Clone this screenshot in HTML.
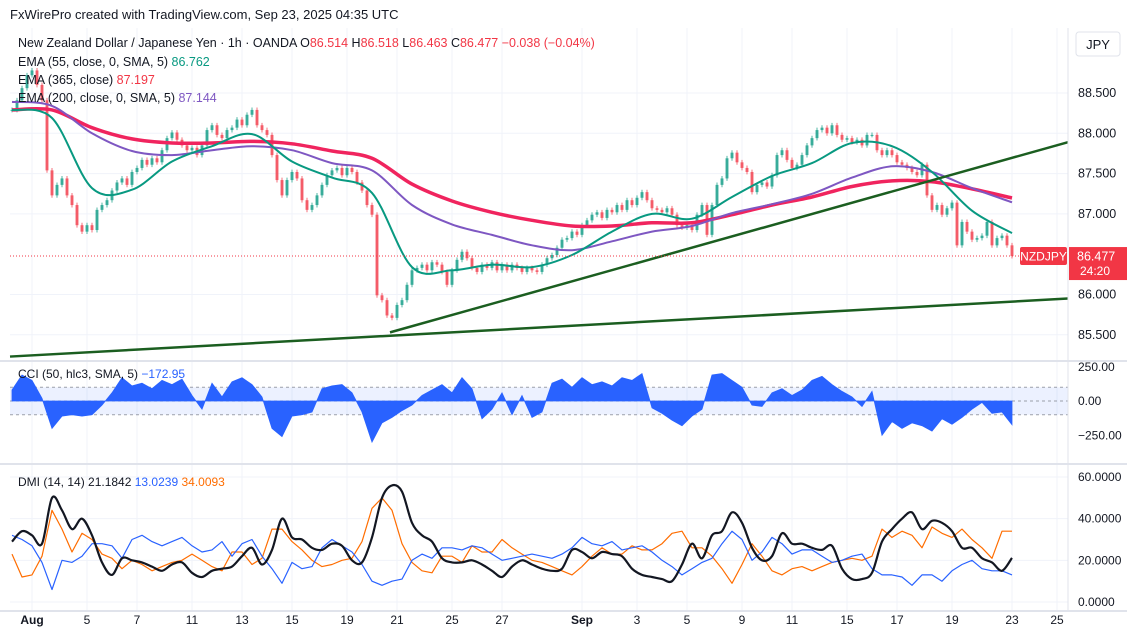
<!DOCTYPE html>
<html><head><meta charset="utf-8"><style>
body{margin:0;background:#fff;font-family:"Liberation Sans",sans-serif;}
svg{display:block}
text{font-family:"Liberation Sans",sans-serif;}
</style></head><body>
<svg id="c" width="1127" height="639" viewBox="0 0 1127 639" xmlns="http://www.w3.org/2000/svg">
<rect width="1127" height="639" fill="#fff"/>
<g id="grid"></g>
<g id="main"></g>
<g id="cci"></g>
<g id="dmi"></g>
<g id="axes"></g>
<text x="10" y="19" font-size="13" fill="#131722">FxWirePro created with TradingView.com, Sep 23, 2025 04:35 UTC</text>
<g font-size="12.5">
<text x="18" y="47" fill="#131722">New Zealand Dollar / Japanese Yen · 1h · OANDA <tspan fill="#131722">O</tspan><tspan fill="#f23645">86.514</tspan> H<tspan fill="#f23645">86.518</tspan> L<tspan fill="#f23645">86.463</tspan> C<tspan fill="#f23645">86.477 −0.038 (−0.04%)</tspan></text>
<text x="18" y="66" fill="#131722">EMA (55, close, 0, SMA, 5) <tspan fill="#089981">86.762</tspan></text>
<text x="18" y="84" fill="#131722">EMA (365, close) <tspan fill="#f23645">87.197</tspan></text>
<text x="18" y="102" fill="#131722">EMA (200, close, 0, SMA, 5) <tspan fill="#7e57c2">87.144</tspan></text>
</g>
<rect x="1076" y="32" width="44" height="24" rx="3" fill="#fff" stroke="#e0e3eb"/>
<text x="1098" y="49" font-size="13" text-anchor="middle" fill="#131722">JPY</text>
<text x="18" y="378" font-size="12" fill="#131722">CCI (50, hlc3, SMA, 5) <tspan fill="#2962ff">−172.95</tspan></text>
<text x="18" y="486" font-size="12" fill="#131722">DMI (14, 14) 21.1842 <tspan fill="#2962ff">13.0239</tspan> <tspan fill="#ff6d00">34.0093</tspan></text>
</svg>
<script>
const closes=[88.29,88.41,88.56,88.72,88.78,88.60,88.41,87.54,87.23,87.36,87.44,87.23,87.11,86.86,86.78,86.86,86.80,87.05,87.11,87.17,87.29,87.39,87.44,87.36,87.52,87.57,87.67,87.61,87.69,87.64,87.79,87.94,88.01,87.92,87.85,87.79,87.82,87.73,87.85,88.04,88.10,87.98,87.94,88.04,88.07,88.17,88.10,88.23,88.29,88.10,88.04,87.98,87.73,87.42,87.23,87.42,87.52,87.44,87.17,87.05,87.11,87.23,87.36,87.48,87.54,87.57,87.48,87.57,87.52,87.39,87.29,87.11,86.99,85.99,85.93,85.74,85.71,85.87,85.93,86.12,86.30,86.33,86.37,86.30,86.40,86.37,86.28,86.12,86.30,86.43,86.53,86.45,86.33,86.28,86.37,86.33,86.40,86.30,86.37,86.30,86.37,86.33,86.28,86.33,86.30,86.28,86.37,86.45,86.49,86.58,86.68,86.70,86.78,86.74,86.86,86.92,86.99,87.02,86.95,87.05,87.02,87.11,87.05,87.17,87.11,87.20,87.27,87.17,87.07,87.05,87.02,87.07,86.99,86.86,86.83,86.86,86.80,86.99,87.11,86.74,87.11,87.36,87.44,87.69,87.76,87.64,87.57,87.52,87.27,87.36,87.39,87.34,87.48,87.73,87.79,87.67,87.57,87.61,87.73,87.85,87.94,88.04,88.07,88.00,88.10,87.98,87.92,87.94,87.89,87.92,87.85,87.98,87.98,87.79,87.73,87.79,87.73,87.64,87.61,87.57,87.52,87.48,87.61,87.23,87.05,87.11,86.99,87.07,87.14,86.61,86.90,86.78,86.68,86.70,86.73,86.90,86.61,86.70,86.73,86.61,86.477];
const ema55=[88.29,88.19,87.32,87.30,87.65,87.84,87.99,87.65,87.45,87.26,86.34,86.30,86.37,86.34,86.49,86.78,87.00,86.94,87.21,87.47,87.63,87.88,87.84,87.52,87.04,86.762];
const ema200=[88.39,88.34,88.00,87.78,87.73,87.79,87.84,87.79,87.63,87.54,87.11,86.87,86.74,86.61,86.55,86.66,86.78,86.85,87.01,87.12,87.25,87.45,87.59,87.52,87.32,87.144];
const ema365=[88.29,88.29,88.07,87.93,87.88,87.88,87.90,87.87,87.78,87.69,87.37,87.16,87.02,86.92,86.85,86.85,86.89,86.89,86.99,87.11,87.21,87.34,87.41,87.40,87.31,87.197];
const cciVals=[80,190,150,20,-200,-110,-100,-110,-100,-30,60,170,110,130,90,150,120,160,40,-60,130,30,140,170,120,30,-200,-260,-110,-100,-80,90,110,120,60,-80,-300,-160,-120,-70,-30,40,80,120,60,170,90,-130,-60,60,-100,40,-120,-80,130,160,100,170,120,140,110,170,150,200,-50,-90,-140,-180,-110,-60,190,200,150,100,-30,-40,60,90,40,80,150,180,120,70,30,-40,70,-250,-150,-200,-160,-180,-220,-130,-170,-120,-60,-10,-90,-80,-173];
const adx=[29,34,32,28,50,44,35,40,32,19,13,21,20,19,17,15,18,19,14,12,15,16,17,22,26,18,25,40,31,30,26,25,28,27,20,19,31,50,56,53,38,32,29,21,19,19,20,18,15,12,17,20,18,16,15,16,25,24,21,24,23,22,16,13,12,11,10,18,28,21,32,34,43,38,26,20,22,33,28,28,26,25,27,16,11,11,14,29,35,40,43,35,39,38,34,26,26,21,19,15,21.18];
const diPlus=[32,30,27,19,6,20,19,22,28,28,27,21,30,32,29,27,29,31,27,24,25,29,22,28,30,22,16,9,19,16,17,26,30,27,24,18,10,8,10,11,20,23,21,26,26,25,27,26,23,20,21,22,23,22,21,23,26,31,28,27,29,25,26,27,24,20,17,13,16,19,21,28,34,30,20,24,31,28,23,25,25,22,19,20,22,23,16,13,13,12,8,13,13,10,15,18,20,16,15,15,13.02];
const diMinus=[23,12,13,22,44,35,24,33,30,23,21,16,20,18,15,17,19,20,23,20,17,15,24,24,18,21,35,35,29,25,20,17,18,20,21,29,45,50,44,28,19,15,14,22,22,19,27,24,24,30,26,23,20,19,17,15,13,17,22,26,23,23,27,25,25,28,33,34,26,26,22,16,9,18,28,22,15,13,16,17,15,17,19,20,21,20,22,35,31,34,32,26,36,33,31,35,30,26,21,34,34.01];
const priceTicks=[88.5,88.0,87.5,87.0,86.0,85.5];
const cciTicks=[250,0,-250];
const dmiTicks=[60,40,20,0];
const dateLabels=["Aug","5","7","11","13","15","19","21","25","27","Sep","3","5","9","11","15","17","19","23","25"];
const dateBar=[4,15,25,36,46,56,67,77,88,98,114,125,135,146,156,167,177,188,200,209];

const NS="http://www.w3.org/2000/svg";
function mk(tag,attrs,parent){const e=document.createElementNS(NS,tag);for(const k in attrs)e.setAttribute(k,attrs[k]);parent.appendChild(e);return e;}
const X0=10,X1=1068;
const xBar=i=>12+i*(1000/(closes.length-1));
const xSeries=(arr,k)=>12+k*(1000/(arr.length-1));
const yP=p=>93+(88.5-p)*80.6;
const yC=v=>401-v*0.137;
const yD=v=>602-v*2.083;
const grid=document.getElementById('grid'),main=document.getElementById('main'),cci=document.getElementById('cci'),dmi=document.getElementById('dmi'),axes=document.getElementById('axes');

dateBar.forEach((b,k)=>{
  const x=xBar(b);
  const l=mk('line',{x1:x,x2:x,y1:28,y2:610,stroke:'#f0f3fa'},grid);
  
  
  const t=mk('text',{x:x,y:624,'font-size':12,'text-anchor':'middle',fill:'#131722','font-weight':(dateLabels[k]=='Aug'||dateLabels[k]=='Sep')?'bold':'normal'},axes);
  t.textContent=dateLabels[k];
  
  
});
priceTicks.forEach(p=>{
  const y=yP(p);
  const l=mk('line',{x1:X0,x2:X1,y1:y,y2:y,stroke:'#f0f3fa'},grid);
  
  
  const t=mk('text',{x:1078,y:y+4,'font-size':12.5,fill:'#131722'},axes);
  t.textContent=p.toFixed(3);
  
  
});
cciTicks.forEach(v=>{
  const y=yC(v);
  const t=mk('text',{x:1078,y:y+4,'font-size':12,fill:'#131722'},axes);
  t.textContent=(v<0?'−':'')+Math.abs(v).toFixed(2);
  
  
});
dmiTicks.forEach(v=>{
  const y=yD(v);
  const l=mk('line',{x1:X0,x2:X1,y1:y,y2:y,stroke:'#f0f3fa'},grid);
  
  
  const t=mk('text',{x:1078,y:y+4,'font-size':12,fill:'#131722'},axes);
  t.textContent=v.toFixed(4);
  
  
});
[361,464,611].forEach(y=>{
  const l=mk('line',{x1:0,x2:1127,y1:y,y2:y,stroke:'#e0e3eb','stroke-width':2},axes);
  
  
});
const ax=mk('line',{x1:1068,x2:1068,y1:28,y2:611,stroke:'#e0e3eb'},axes);



closes.forEach((c,i)=>{
  const o=i>0?closes[i-1]:c;
  const up=c>=o, col=up?'#089981':'#f23645';
  const x=xBar(i);
  const hi=Math.max(o,c)+0.03, lo=Math.min(o,c)-0.03;
  const w=mk('line',{x1:x,x2:x,y1:yP(hi),y2:yP(lo),stroke:col,'stroke-width':1,opacity:0.7},main);
  
  
  const yt=yP(Math.max(o,c)), yb=yP(Math.min(o,c));
  const r=mk('rect',{x:x-1.5,y:yt,width:3,height:Math.max(1,yb-yt),fill:col,opacity:0.7},main);
  
  
});
function line(arr,xf,yf,color,w,parent,name,smooth){
  const pts=arr.map((v,k)=>[xf(arr,k),yf(v)]);
  let d='M'+pts[0][0].toFixed(1)+','+pts[0][1].toFixed(1);
  for(let k=1;k<pts.length;k++){
    if(smooth){
      const p0=pts[Math.max(0,k-2)],p1=pts[k-1],p2=pts[k],p3=pts[Math.min(pts.length-1,k+1)];
      const c1=[p1[0]+(p2[0]-p0[0])/6,p1[1]+(p2[1]-p0[1])/6];
      const c2=[p2[0]-(p3[0]-p1[0])/6,p2[1]-(p3[1]-p1[1])/6];
      d+='C'+c1[0].toFixed(1)+','+c1[1].toFixed(1)+' '+c2[0].toFixed(1)+','+c2[1].toFixed(1)+' '+p2[0].toFixed(1)+','+p2[1].toFixed(1);
    } else d+='L'+pts[k][0].toFixed(1)+','+pts[k][1].toFixed(1);
  }
  const p=mk('path',{d:d,fill:'none',stroke:color,'stroke-width':w,'stroke-linejoin':'round'},parent);
  
  
  return p;
}
line(ema365,xSeries,yP,'#f0245e',3.5,main,'ema-365-line',true);
line(ema200,xSeries,yP,'#7e57c2',2,main,'ema-200-line',true);
line(ema55,xSeries,yP,'#089981',2,main,'ema-55-line',true);
const t1=mk('line',{x1:10,y1:yP(85.23),x2:1068,y2:yP(85.95),stroke:'#1b5e20','stroke-width':2.5},main);


const t2=mk('line',{x1:390,y1:yP(85.53),x2:1068,y2:yP(87.89),stroke:'#1b5e20','stroke-width':2.5},main);


const lp=closes[closes.length-1];
const ll=mk('line',{x1:X0,x2:1068,y1:yP(lp),y2:yP(lp),stroke:'#f23645','stroke-width':1,'stroke-dasharray':'1 2'},main);


const sb=mk('rect',{x:1020,y:yP(lp)-9,width:47,height:18,rx:2,fill:'#f23645'},axes);


const st=mk('text',{x:1043.5,y:yP(lp)+4.5,'font-size':12,fill:'#fff','text-anchor':'middle'},axes);
st.textContent='NZDJPY';


const pb=mk('rect',{x:1069,y:yP(lp)-9,width:58,height:33,fill:'#f23645'},axes);


const pt=mk('text',{x:1077,y:yP(lp)+4.5,'font-size':12.5,fill:'#fff'},axes);
pt.textContent=lp.toFixed(3);


const ct=mk('text',{x:1080,y:yP(lp)+19,'font-size':12,fill:'#fff'},axes);
ct.textContent='24:20';



const band=mk('rect',{x:X0,y:yC(100),width:X1-X0,height:yC(-100)-yC(100),fill:'#2962ff','fill-opacity':0.09},cci);


[100,0,-100].forEach(v=>{
  const l=mk('line',{x1:X0,x2:X1,y1:yC(v),y2:yC(v),stroke:'#787b86','stroke-dasharray':'3 3','stroke-opacity':0.7},cci);
  
  
});
let d='M'+xSeries(cciVals,0)+','+yC(0);
cciVals.forEach((v,k)=>{d+='L'+xSeries(cciVals,k).toFixed(1)+','+yC(v).toFixed(1);});
d+='L'+xSeries(cciVals,cciVals.length-1)+','+yC(0)+'Z';
const ca=mk('path',{d:d,fill:'#2962ff',stroke:'#2962ff','stroke-width':0.8},cci);



line(diMinus,xSeries,yD,'#ff6d00',1.2,dmi,'di-minus-line',false);
line(diPlus,xSeries,yD,'#2962ff',1.2,dmi,'di-plus-line',false);
line(adx,xSeries,yD,'#131722',2.2,dmi,'adx-line',true);
</script>
</body></html>
